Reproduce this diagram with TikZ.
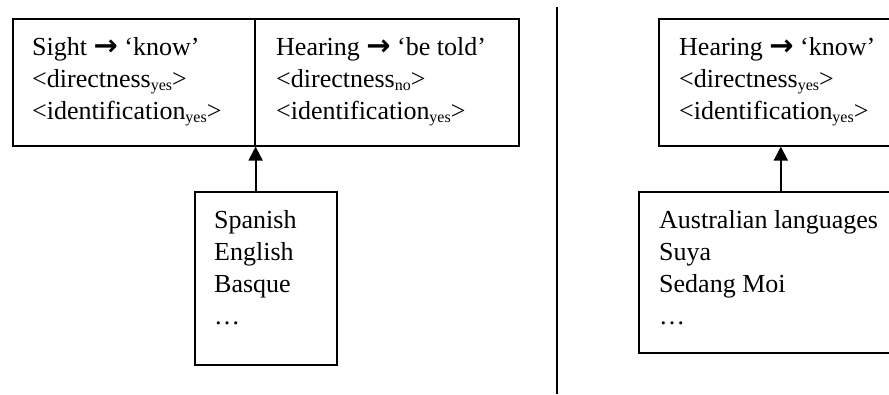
\documentclass[tikz,border=0pt]{standalone}
\usepackage{fontspec}
\setmainfont{Liberation Serif}
\newfontfamily\arrowfont{DejaVu Sans}
\usetikzlibrary{arrows.meta,calc}
\newcommand{\sbs}[1]{\raisebox{-0.28ex}{\fontsize{16}{16}\selectfont #1}}
\newcommand{\arrw}{{\arrowfont\bfseries\fontsize{29}{29}\selectfont →}}
\begin{document}
\begin{tikzpicture}[x=1pt,y=-1pt,
  box/.style={draw=black, line width=1.6pt, anchor=north west, inner sep=0pt},
  txt/.style={anchor=north west, align=left, inner sep=0pt, font=\fontsize{26}{32}\selectfont},
  link/.style={line width=2pt, -{Triangle[width=14pt,length=14pt]}}]
\clip (0,0) rectangle (889,394);
\fill[white] (0,0) rectangle (889,394);
% left group
\node[box, minimum width=242pt, minimum height=127pt] (sight) at (12,18) {};
\node[box, minimum width=264pt, minimum height=127pt] (hear) at (254,18) {};
\node[txt] (sightt) at (32,37) {Sight \arrw{} ‘know’\\ <directness\sbs{yes}>\\ <identification\sbs{yes}>};
\node[txt] (heart) at (276,37) {Hearing \arrw{} ‘be told’\\ <directness\sbs{no}>\\ <identification\sbs{yes}>};
\node[box, minimum width=142pt, minimum height=173pt] (langs) at (194,191) {};
\node[txt] (langst) at (214,210) {Spanish\\ English\\ Basque\\ …};
\draw[link] (langs.north -| sight.south east) -- (sight.south east);
% separator
\coordinate (septop) at (557,7);
\coordinate (sepbot) at (557,394);
\draw[line width=1.6pt] (septop) -- (sepbot);
% right group
\node[box, minimum width=244pt, minimum height=127pt] (rhear) at (658,18) {};
\node[txt] (rheart) at (679,37) {Hearing \arrw{} ‘know’\\ <directness\sbs{yes}>\\ <identification\sbs{yes}>};
\node[box, minimum width=284pt, minimum height=161pt] (rlangs) at (638,191) {};
\node[txt] (rlangst) at (659,210) {Australian languages\\ Suya\\ Sedang Moi\\ …};
\draw[link] (rlangs.north) -- (rhear.south);
\end{tikzpicture}
\end{document}
